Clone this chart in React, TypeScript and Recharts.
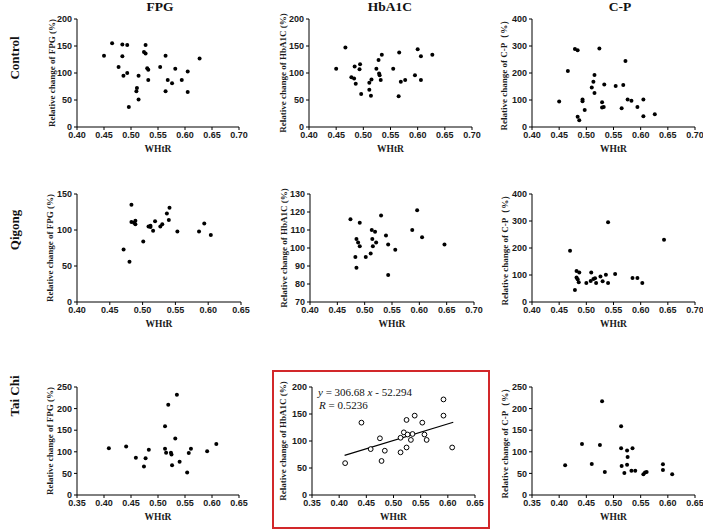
import React from 'react';
import { ScatterChart, Scatter, XAxis, YAxis, ReferenceLine } from 'recharts';

// ---------- text ----------
const columnTitles = ['FPG', 'HbA1C', 'C-P'];
const rowTitles = ['Control', 'Qigong', 'Tai Chi'];
const xAxisLabel = 'WHtR';
const yLabelFPG = 'Relative change of FPG (%)';
const yLabelHbA1C = 'Relative change of HbA1C (%)';
const yLabelCP = 'Relative change of C-P（%）';

// ---------- ticks ----------
const xTicks40to70 = [0.4, 0.45, 0.5, 0.55, 0.6, 0.65, 0.7];
const xTicks40to65 = [0.4, 0.45, 0.5, 0.55, 0.6, 0.65];
const xTicks35to65 = [0.35, 0.4, 0.45, 0.5, 0.55, 0.6, 0.65];
const yTicks0to200 = [0, 50, 100, 150, 200];
const yTicks0to150 = [0, 50, 100, 150];
const yTicks0to250 = [0, 50, 100, 150, 200, 250];
const yTicks0to400 = [0, 100, 200, 300, 400];
const yTicks70to130 = [70, 80, 90, 100, 110, 120, 130];

// ---------- Control ----------
const controlFpgX = [0.450, 0.465, 0.477, 0.484, 0.484, 0.486, 0.493, 0.493, 0.496, 0.510, 0.511, 0.514, 0.514, 0.524, 0.527, 0.527, 0.530, 0.532, 0.532, 0.554, 0.564, 0.564, 0.568, 0.576, 0.582, 0.594, 0.605, 0.605, 0.627];
const controlFpgY = [132, 155, 111, 153, 131, 95, 100, 152, 37, 66, 72, 95, 51, 139, 152, 136, 109, 106, 87, 111, 132, 66, 87, 81, 108, 87, 103, 65, 127];

const controlHbX = [0.450, 0.467, 0.484, 0.478, 0.483, 0.486, 0.494, 0.493, 0.496, 0.511, 0.511, 0.515, 0.514, 0.524, 0.528, 0.529, 0.530, 0.532, 0.534, 0.555, 0.566, 0.565, 0.569, 0.577, 0.600, 0.595, 0.606, 0.606, 0.627];
const controlHbY = [108, 147, 112, 92, 90, 80, 116, 107, 61, 82, 69, 88, 58, 108, 124, 99, 96, 87, 134, 108, 138, 57, 84, 87, 144, 96, 131, 87, 134];

const controlCpX = [0.450, 0.466, 0.479, 0.484, 0.484, 0.487, 0.493, 0.493, 0.497, 0.510, 0.513, 0.515, 0.515, 0.524, 0.529, 0.529, 0.532, 0.533, 0.554, 0.565, 0.568, 0.572, 0.576, 0.583, 0.594, 0.605, 0.605, 0.626];
const controlCpY = [94, 207, 289, 284, 38, 25, 102, 95, 63, 146, 168, 193, 126, 291, 92, 72, 74, 157, 152, 69, 156, 244, 102, 97, 74, 102, 40, 47];

// ---------- Qigong ----------
const qigongFpgX = [0.471, 0.480, 0.483, 0.483, 0.487, 0.489, 0.489, 0.501, 0.509, 0.512, 0.512, 0.516, 0.519, 0.527, 0.530, 0.537, 0.541, 0.540, 0.553, 0.586, 0.594, 0.604];
const qigongFpgY = [73, 56, 135, 111, 110, 113, 108, 84, 105, 106, 104, 99, 112, 105, 108, 123, 131, 114, 98, 98, 109, 93];

const qigongHbX = [0.474, 0.483, 0.485, 0.485, 0.488, 0.491, 0.491, 0.502, 0.511, 0.513, 0.514, 0.519, 0.521, 0.515, 0.530, 0.539, 0.543, 0.543, 0.556, 0.587, 0.596, 0.605, 0.646];
const qigongHbY = [116, 95, 89, 105, 103, 114, 101, 95, 97, 110, 105, 109, 103, 101, 118, 107, 102, 85, 99, 110, 121, 106, 102];

const qigongCpX = [0.470, 0.479, 0.482, 0.482, 0.484, 0.486, 0.487, 0.500, 0.509, 0.508, 0.513, 0.516, 0.518, 0.526, 0.530, 0.536, 0.540, 0.540, 0.553, 0.585, 0.594, 0.603, 0.643];
const qigongCpY = [190, 44, 115, 91, 84, 73, 109, 70, 109, 78, 85, 88, 70, 94, 77, 101, 295, 70, 104, 89, 89, 70, 231];

// ---------- Tai Chi ----------
const taichiFpgX = [0.409, 0.441, 0.459, 0.474, 0.477, 0.483, 0.513, 0.513, 0.515, 0.519, 0.524, 0.525, 0.526, 0.532, 0.535, 0.540, 0.554, 0.557, 0.561, 0.591, 0.608];
const taichiFpgY = [108, 112, 86, 66, 85, 105, 159, 107, 98, 209, 98, 94, 69, 131, 232, 77, 52, 97, 107, 101, 118];

const taichiHbX = [0.411, 0.441, 0.458, 0.475, 0.478, 0.484, 0.513, 0.513, 0.519, 0.524, 0.524, 0.526, 0.532, 0.535, 0.539, 0.553, 0.557, 0.561, 0.592, 0.592, 0.608];
const taichiHbY = [59, 134, 85, 105, 63, 82, 79, 106, 116, 139, 88, 112, 102, 113, 147, 134, 112, 102, 177, 147, 88];

const taichiCpX = [0.411, 0.442, 0.460, 0.475, 0.479, 0.484, 0.514, 0.514, 0.515, 0.520, 0.525, 0.526, 0.525, 0.533, 0.535, 0.540, 0.555, 0.558, 0.561, 0.591, 0.591, 0.608];
const taichiCpY = [69, 118, 72, 116, 217, 53, 159, 108, 67, 51, 103, 88, 70, 56, 108, 56, 48, 52, 53, 71, 58, 48];

// regression (Tai Chi, HbA1C)
const regSlope = 306.68;
const regIntercept = -52.294;
const regXRange = [0.41, 0.61];
const regEquation = 'y = 306.68 x - 52.294';
const regR = 'R = 0.5236';

// ---------- layout ----------
const panels = [
  { xs: controlFpgX, ys: controlFpgY, xt: xTicks40to70, yt: yTicks0to200, x0: 77, x1: 239, y0: 19, y1: 127, yl: yLabelFPG, ylx: 52 },
  { xs: controlHbX, ys: controlHbY, xt: xTicks40to70, yt: yTicks0to200, x0: 309, x1: 472, y0: 19, y1: 127, yl: yLabelHbA1C, ylx: 283 },
  { xs: controlCpX, ys: controlCpY, xt: xTicks40to70, yt: yTicks0to400, x0: 532, x1: 695, y0: 19, y1: 127, yl: yLabelCP, ylx: 504 },
  { xs: qigongFpgX, ys: qigongFpgY, xt: xTicks40to65, yt: yTicks0to150, x0: 77, x1: 241, y0: 194, y1: 302, yl: yLabelFPG, ylx: 50 },
  { xs: qigongHbX, ys: qigongHbY, xt: xTicks40to70, yt: yTicks70to130, x0: 310, x1: 474, y0: 194, y1: 302, yl: yLabelHbA1C, ylx: 284 },
  { xs: qigongCpX, ys: qigongCpY, xt: xTicks40to70, yt: yTicks0to400, x0: 532, x1: 695, y0: 194, y1: 302, yl: yLabelCP, ylx: 505 },
  { xs: taichiFpgX, ys: taichiFpgY, xt: xTicks35to65, yt: yTicks0to250, x0: 77, x1: 239, y0: 387, y1: 495, yl: yLabelFPG, ylx: 50 },
  { xs: taichiHbX, ys: taichiHbY, xt: xTicks35to65, yt: yTicks0to200, x0: 312, x1: 475, y0: 387, y1: 495, yl: yLabelHbA1C, ylx: 283, open: true, reg: true },
  { xs: taichiCpX, ys: taichiCpY, xt: xTicks35to65, yt: yTicks0to250, x0: 532, x1: 695, y0: 387, y1: 495, yl: yLabelCP, ylx: 505 },
];

const SERIF = '"Liberation Serif", "Times New Roman", serif';
const SANS = '"Liberation Sans", Arial, sans-serif';
const tickStyle = { fontFamily: SANS, fontSize: 9, fontWeight: 'bold', fill: '#1a1a1a' };

const filledDot = (props: any) => <circle cx={props.cx} cy={props.cy} r={2} fill="#000" />;
const openDot = (props: any) => <circle cx={props.cx} cy={props.cy} r={2.4} fill="#fff" stroke="#000" strokeWidth={1} />;

function Panel({ p }: { p: any }) {
  const yw = 40, mt = 8, mr = 10, xh = 25;
  const w = p.x1 - p.x0 + yw + mr;
  const h = p.y1 - p.y0 + mt + xh;
  const data = p.xs.map((x: number, i: number) => ({ x, y: p.ys[i] }));
  const xd = [p.xt[0], p.xt[p.xt.length - 1]];
  const yd = [p.yt[0], p.yt[p.yt.length - 1]];
  const seg = regXRange.map((x) => ({ x, y: regSlope * x + regIntercept }));
  return (
    <div style={{ position: 'absolute', left: p.x0 - yw, top: p.y0 - mt }}>
      <ScatterChart width={w} height={h} margin={{ top: mt, right: mr, bottom: 0, left: 0 }}>
        <XAxis
          type="number"
          dataKey="x"
          domain={xd}
          ticks={p.xt}
          interval={0}
          allowDataOverflow
          tickFormatter={(v: number) => v.toFixed(2)}
          tickSize={3}
          tickMargin={2}
          height={xh}
          tick={tickStyle}
          axisLine={{ stroke: '#000', strokeWidth: 1 }}
          tickLine={{ stroke: '#000', strokeWidth: 1 }}
        />
        <YAxis
          type="number"
          dataKey="y"
          domain={yd}
          ticks={p.yt}
          interval={0}
          allowDataOverflow
          tickSize={3}
          tickMargin={2}
          width={yw}
          tick={tickStyle}
          axisLine={{ stroke: '#000', strokeWidth: 1 }}
          tickLine={{ stroke: '#000', strokeWidth: 1 }}
        />
        {p.reg && (
          <ReferenceLine segment={seg} stroke="#000" strokeWidth={1.2} ifOverflow="visible" />
        )}
        <Scatter data={data} isAnimationActive={false} shape={p.open ? openDot : filledDot} />
      </ScatterChart>
    </div>
  );
}

const colCenters = [160, 390, 620];
const rowCenters = [58, 230, 396];

export default function App() {
  return (
    <div style={{ position: 'absolute', left: 0, top: 0, width: 703, height: 530, background: '#fff', overflow: 'hidden' }}>
      {panels.map((p, i) => (
        <Panel key={i} p={p} />
      ))}
      <svg width={703} height={530} style={{ position: 'absolute', left: 0, top: 0, pointerEvents: 'none' }}>
        {columnTitles.map((t, i) => (
          <text key={t} x={colCenters[i]} y={11} textAnchor="middle" fontFamily={SERIF} fontWeight="bold" fontSize={13.5} fill="#111">
            {t}
          </text>
        ))}
        {rowTitles.map((t, i) => (
          <text
            key={t}
            x={14}
            y={rowCenters[i]}
            textAnchor="middle"
            dominantBaseline="central"
            transform={`rotate(-90 14 ${rowCenters[i]})`}
            fontFamily={SERIF}
            fontWeight="bold"
            fontSize={13}
            fill="#111"
          >
            {t}
          </text>
        ))}
        {panels.map((p, i) => {
          const cy = (p.y0 + p.y1) / 2;
          return (
            <g key={i}>
              <text
                x={p.ylx}
                y={cy}
                textAnchor="middle"
                dominantBaseline="central"
                transform={`rotate(-90 ${p.ylx} ${cy})`}
                fontFamily={SERIF}
                fontWeight="bold"
                fontSize={9}
                fill="#1a1a1a"
              >
                {p.yl}
              </text>
              <text x={(p.x0 + p.x1) / 2} y={p.y1 + 25} textAnchor="middle" fontFamily={SERIF} fontWeight="bold" fontSize={9.5} fill="#1a1a1a">
                {xAxisLabel}
              </text>
            </g>
          );
        })}
        <text x={318} y={396} fontFamily={SERIF} fontSize={11} fill="#111">
          <tspan fontStyle="italic">y</tspan>
          {' = 306.68 '}
          <tspan fontStyle="italic">x</tspan>
          {' - 52.294'}
        </text>
        <text x={319} y={409} fontFamily={SERIF} fontSize={11} fill="#111">
          <tspan fontStyle="italic">R</tspan>
          {' = 0.5236'}
        </text>
        <rect x={273} y={371} width={216} height={157} fill="none" stroke="#d2282a" strokeWidth={2} />
      </svg>
    </div>
  );
}
